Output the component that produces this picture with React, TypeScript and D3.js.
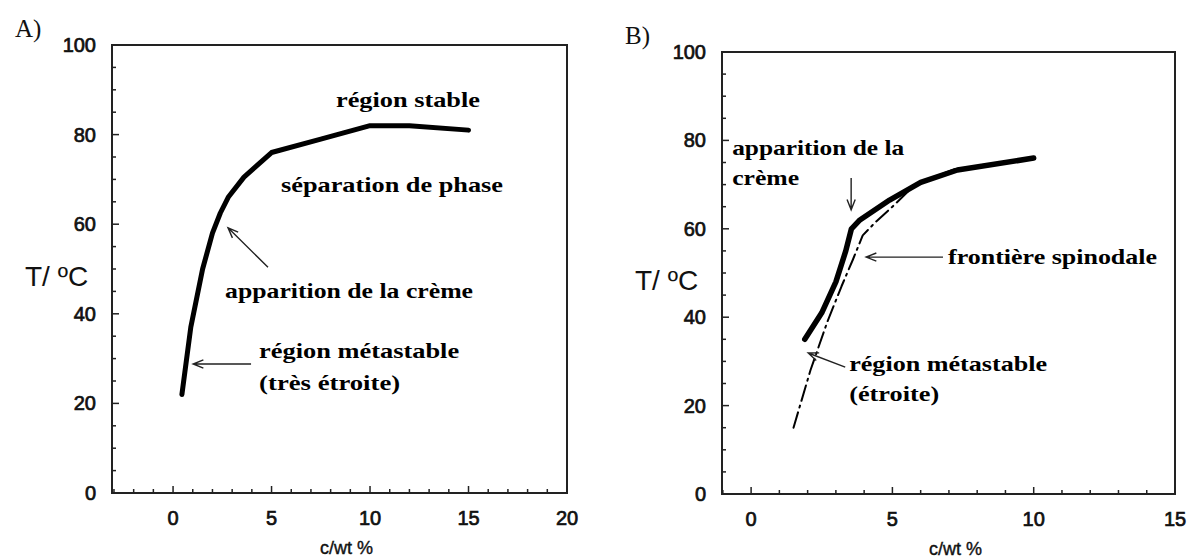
import React from 'react';
import * as d3 from 'd3';

// panel A : cream boundary
const concA = [0.45, 0.9, 1.5, 2.0, 2.4, 2.8, 3.6, 5.0, 7.5, 10, 12, 15];
const tempA = [22, 37, 50, 58, 62.5, 66, 70.5, 76, 79, 82, 82, 81];

// panel B : cream boundary (solid) and spinodal (dash-dot)
const concB = [1.9, 2.5, 3.0, 3.35, 3.55, 3.85, 4.9, 6.0, 7.3, 10];
const tempB = [35, 41, 48, 55, 60, 62, 66.5, 70.5, 73.3, 76];
const concSpin = [1.5, 2.1, 2.7, 3.2, 3.6, 3.95, 4.4, 5.0, 5.8, 7.2];
const tempSpin = [15, 28, 39, 47, 53, 58.5, 61.5, 65, 70, 73.5];

const yTicks = [0, 20, 40, 60, 80, 100];
const xTicksA = [0, 5, 10, 15, 20];
const xTicksB = [0, 5, 10, 15];

const W = 1191;
const H = 559;
const tickFont = '"Liberation Sans", Arial, sans-serif';
const noteFont = '"Liberation Serif", "Times New Roman", serif';

type Note = { text: string; c: number; t: number; w: number };
type Arrow = { c0: number; t0: number; c1: number; t1: number };

const notesA: Note[] = [
  { text: 'région stable', c: 8.27, t: 86.2, w: 144 },
  { text: 'séparation de phase', c: 5.48, t: 67.2, w: 222 },
  { text: 'apparition de la crème', c: 2.64, t: 43.5, w: 248 },
  { text: 'région métastable', c: 4.37, t: 30.1, w: 200 },
  { text: '(très étroite)', c: 4.37, t: 23.0, w: 141 },
];
const arrowsA: Arrow[] = [
  { c0: 4.82, t0: 50.4, c1: 2.79, t1: 59.2 },
  { c0: 3.96, t0: 28.8, c1: 1.02, t1: 28.8 },
];
const notesB: Note[] = [
  { text: 'apparition de la', c: -0.67, t: 76.7, w: 172 },
  { text: 'crème', c: -0.67, t: 69.9, w: 67 },
  { text: 'frontière spinodale', c: 6.97, t: 52.0, w: 209 },
  { text: 'région métastable', c: 3.47, t: 27.8, w: 198 },
  { text: '(étroite)', c: 3.47, t: 21.0, w: 90 },
];
const arrowsB: Arrow[] = [
  { c0: 3.54, t0: 71.5, c1: 3.54, t1: 64.3 },
  { c0: 6.79, t0: 53.6, c1: 4.07, t1: 53.6 },
  { c0: 3.33, t0: 28.7, c1: 2.02, t1: 31.9 },
];

function arrowPath(x0: number, y0: number, x1: number, y1: number) {
  const a = Math.atan2(y1 - y0, x1 - x0);
  const L = 11, sp = 0.38;
  const p1 = [x1 - L * Math.cos(a - sp), y1 - L * Math.sin(a - sp)];
  const p2 = [x1 - L * Math.cos(a + sp), y1 - L * Math.sin(a + sp)];
  return `M${x0},${y0}L${x1},${y1}M${p1[0]},${p1[1]}L${x1},${y1}L${p2[0]},${p2[1]}`;
}

function Panel(props: any) {
  const { left, right, top, bottom, xDomain, xTicks, label, series, notes, arrows } = props;
  const x = d3.scaleLinear().domain(xDomain).range([left, right]);
  const y = d3.scaleLinear().domain([0, 100]).range([bottom, top]);
  const line = d3.line<[number, number]>().x(d => x(d[0])).y(d => y(d[1]));

  const minorX = d3.range(Math.ceil(xDomain[0]), xDomain[1] + 0.01, 1);
  const minorY = d3.range(0, 101, 5);

  return (
    <g>
      <text x={left - 97} y={top - 8} fontFamily={noteFont} fontSize={25} fill="#111">{label}</text>
      <rect x={left} y={top} width={right - left} height={bottom - top} fill="none" stroke="#222" strokeWidth={2} />
      {minorY.map(v => (
        <line key={'y' + v} x1={left} x2={left + (v % 20 === 0 ? 7 : 4)} y1={y(v)} y2={y(v)} stroke="#222" strokeWidth={1.5} />
      ))}
      {minorX.map(v => (
        <line key={'x' + v} x1={x(v)} x2={x(v)} y1={bottom} y2={bottom - (v % 5 === 0 ? 7 : 4)} stroke="#222" strokeWidth={1.5} />
      ))}
      {yTicks.map(v => (
        <text key={'yl' + v} x={left - 16} y={y(v) + 7} textAnchor="end" fontFamily={tickFont} fontSize={20} fill="#111" stroke="#111" strokeWidth={0.7}>{v}</text>
      ))}
      {xTicks.map((v: number) => (
        <text key={'xl' + v} x={x(v)} y={bottom + 32} textAnchor="middle" fontFamily={tickFont} fontSize={20} fill="#111" stroke="#111" strokeWidth={0.7}>{v}</text>
      ))}
      <text x={(left + right) / 2 + 7} y={bottom + 61} textAnchor="middle" fontFamily={tickFont} fontSize={18} fill="#111" stroke="#111" strokeWidth={0.4}>c/wt %</text>
      <text x={left - 87} y={y(48) + 8} fontFamily={tickFont} fontSize={28} fill="#111">T/ ºC</text>
      {series.map((s: any, i: number) => (
        <path key={'s' + i} d={line(d3.zip(s.c, s.t) as any) || ''} fill="none" stroke="#000" strokeWidth={s.w} strokeDasharray={s.dash} strokeLinejoin="round" strokeLinecap="round" />
      ))}
      {notes.map((n: Note, i: number) => (
        <text key={'n' + i} x={x(n.c)} y={y(n.t)} fontFamily={noteFont} fontWeight="bold" fontSize={22} textLength={n.w} lengthAdjust="spacingAndGlyphs" fill="#000">{n.text}</text>
      ))}
      {arrows.map((a: Arrow, i: number) => (
        <path key={'a' + i} d={arrowPath(x(a.c0), y(a.t0), x(a.c1), y(a.t1))} fill="none" stroke="#222" strokeWidth={1.4} />
      ))}
    </g>
  );
}

export default function App() {
  return (
    <svg width={W} height={H} style={{ position: 'absolute', left: 0, top: 0, background: '#fff' }}>
      <rect width={W} height={H} fill="#fff" />
      <Panel left={112} right={567} top={45} bottom={493} xDomain={[-3.1, 20]} xTicks={xTicksA} label="A)"
        series={[{ c: concA, t: tempA, w: 5 }]} notes={notesA} arrows={arrowsA} />
      <Panel left={722} right={1175} top={52} bottom={494} xDomain={[-1.03, 15]} xTicks={xTicksB} label="B)"
        series={[{ c: concB, t: tempB, w: 5.5 }, { c: concSpin, t: tempSpin, w: 2, dash: '16,5,2,5' }]} notes={notesB} arrows={arrowsB} />
    </svg>
  );
}
